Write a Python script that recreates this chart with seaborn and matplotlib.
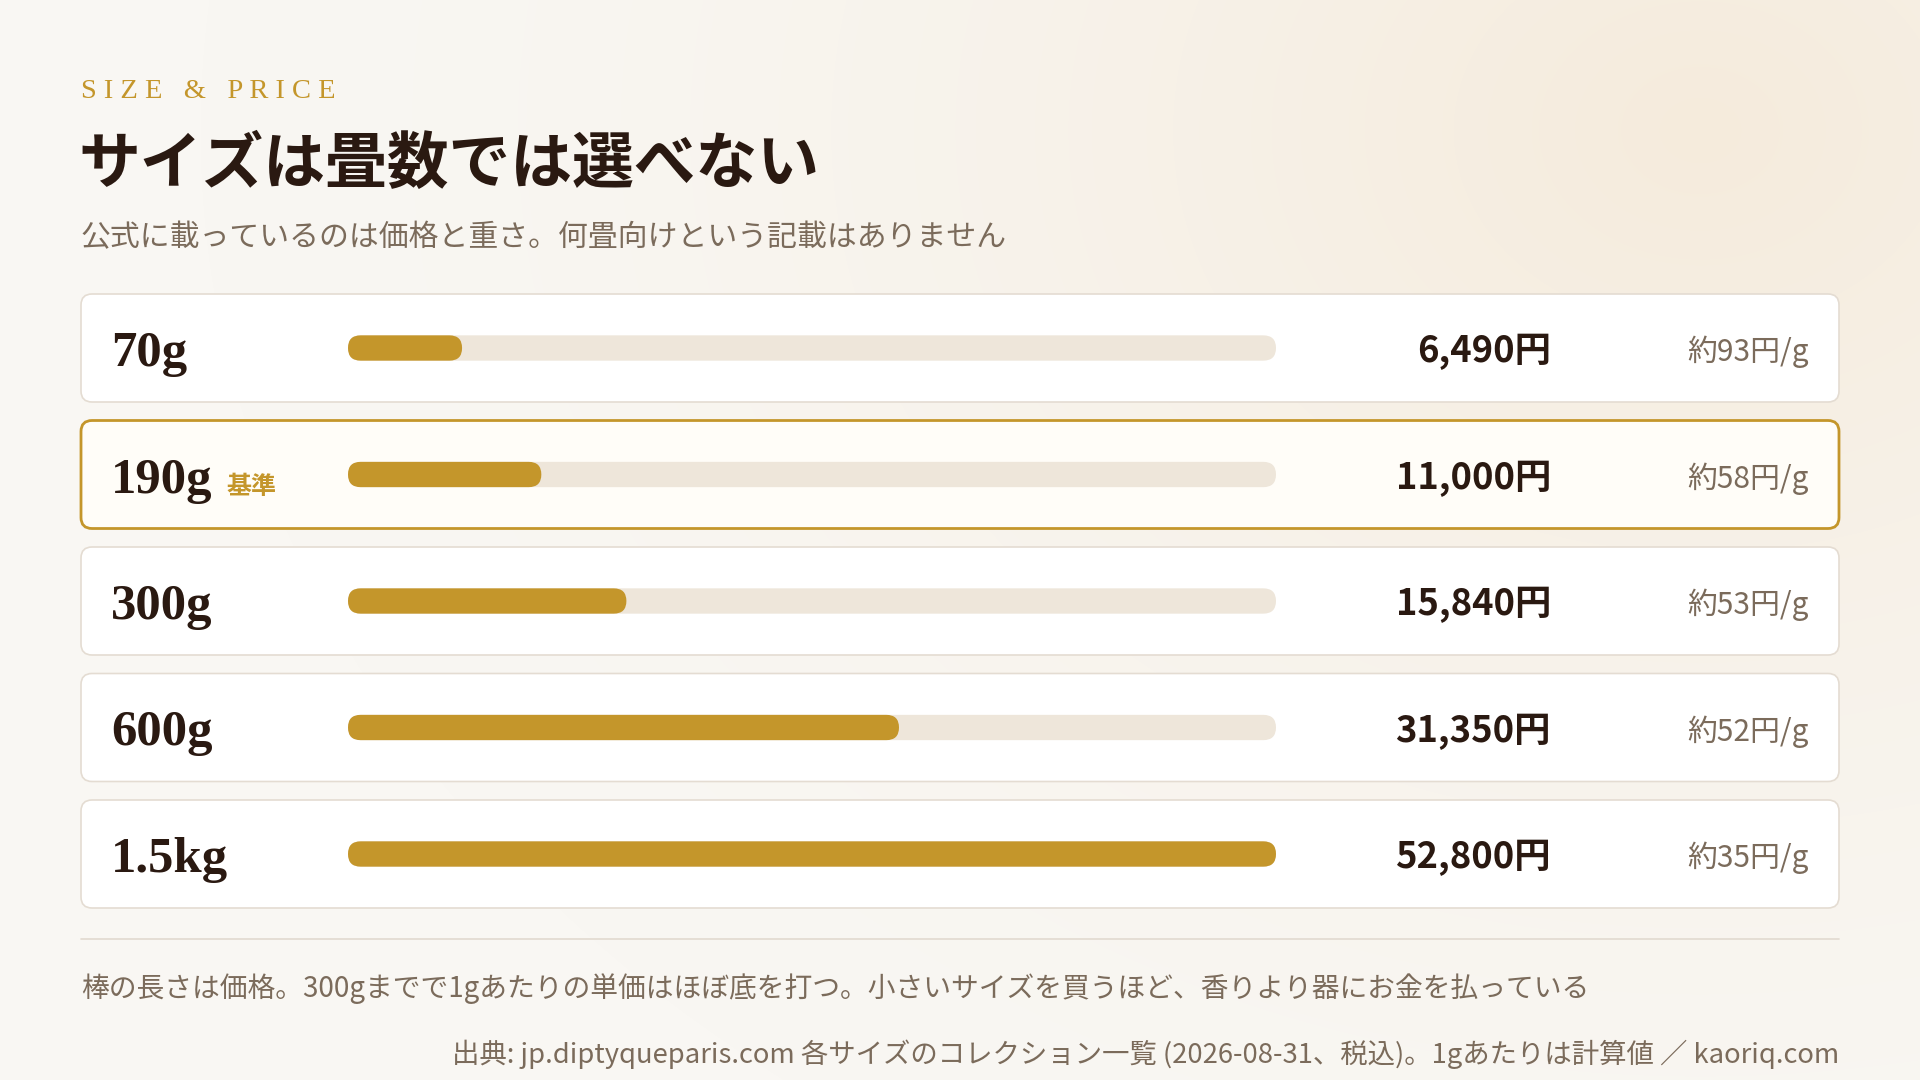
import numpy as np
import pandas as pd
import matplotlib
matplotlib.use("Agg")
import matplotlib.pyplot as plt
import seaborn as sns
from matplotlib.patches import FancyBboxPatch
from matplotlib.transforms import blended_transform_factory, offset_copy

sns.set_theme(style="white")
plt.rcParams['font.family'] = ['Noto Sans CJK JP', 'DejaVu Sans']

# ------------------------
# Data
# ------------------------
sizes = ["70g", "190g", "300g", "600g", "1.5kg"]
prices = [6490, 11000, 15840, 31350, 52800]
per_gram = ["約93円/g", "約58円/g", "約53円/g", "約52円/g", "約35円/g"]
base_size = "190g"
base_tag = "基準"

kicker = "S I Z E   &   P R I C E"
title = "サイズは畳数では選べない"
subtitle = "公式に載っているのは価格と重さ。何畳向けという記載はありません"
note = "棒の長さは価格。300gまでで1gあたりの単価はほぼ底を打つ。小さいサイズを買うほど、香りより器にお金を払っている"
source = "出典: jp.diptyqueparis.com 各サイズのコレクション一覧 (2026-08-31、税込)。1gあたりは計算値 ／ kaoriq.com"

# ------------------------
# Colours / layout (pixels on a 1920x1080 canvas)
# ------------------------
GOLD = "#C4962B"
TRACK = "#EEE6DA"
DARK = "#2A1911"
MUTED = "#7B6B5B"
CARD_EDGE = "#E4DCD2"

W, H = 1920, 1080
ROW0, STEP = 348, 126.5
CARD_H = 108
LEFT, RIGHT = 81, 1839
BAR_L, BAR_R = 348, 1276

fig = plt.figure(figsize=(W / 100, H / 100), dpi=100)

# background axes in pixel units
bg = fig.add_axes([0, 0, 1, 1], zorder=0)
bg.set_xlim(0, W)
bg.set_ylim(H, 0)
bg.axis("off")

yy, xx = np.mgrid[0:H, 0:W]
d = np.hypot((xx - 1700) / 1.0, (yy - 130) / 0.8) / 1500
t = np.clip(1 - d, 0, 1) ** 1.6
c0 = np.array([249, 247, 243]) / 255
c1 = np.array([245, 235, 220]) / 255
img = c0 * (1 - t[..., None]) + c1 * t[..., None]
bg.imshow(img, extent=(0, W, H, 0), aspect="auto", zorder=0)

# row cards
for i, s in enumerate(sizes):
    cy = ROW0 + STEP * i
    is_base = s == base_size
    card = FancyBboxPatch((LEFT, cy - CARD_H / 2), RIGHT - LEFT, CARD_H,
                          boxstyle="round,pad=0,rounding_size=11",
                          fc="#FFFDF8" if is_base else "white",
                          ec=GOLD if is_base else CARD_EDGE,
                          lw=2.0 if is_base else 1.2, zorder=1)
    bg.add_patch(card)

# separator
bg.plot([LEFT, RIGHT], [939, 939], color="#E2DAD0", lw=1.2, zorder=1)

# ------------------------
# Bars
# ------------------------
top_px = ROW0 - STEP / 2
bot_px = ROW0 + STEP * (len(sizes) - 0.5)
ax = fig.add_axes([BAR_L / W, 1 - bot_px / H, (BAR_R - BAR_L) / W, (bot_px - top_px) / H], zorder=2)
ax.patch.set_alpha(0)

df = pd.DataFrame({"size": sizes, "price": prices, "track": [max(prices)] * len(prices)})
sns.barplot(data=df, x="track", y="size", color=TRACK, width=0.2, saturation=1,
            errorbar=None, ax=ax)
sns.barplot(data=df, x="price", y="size", color=GOLD, width=0.2, saturation=1,
            errorbar=None, ax=ax)
ax.set_xlim(0, max(prices))
ax.set_ylim(len(sizes) - 0.5, -0.5)
ax.axis("off")

# turn the rectangles into pill shapes
x_per_px = max(prices) / (BAR_R - BAR_L)
y_per_px = len(sizes) / (bot_px - top_px)
for rect in list(ax.patches):
    x, y = rect.get_x(), rect.get_y()
    w, h = rect.get_width(), rect.get_height()
    r = abs(h) / y_per_px / 2 * x_per_px
    pill = FancyBboxPatch((x, y), w, h, boxstyle=f"round,pad=0,rounding_size={r}",
                          mutation_aspect=y_per_px / x_per_px,
                          fc=rect.get_facecolor(), ec="none", zorder=rect.get_zorder())
    rect.remove()
    ax.add_patch(pill)

# ------------------------
# Row texts
# ------------------------
row_tr = blended_transform_factory(bg.transData, ax.transData)
down = offset_copy(row_tr, fig, y=-4, units="dots")
for i, s in enumerate(sizes):
    lbl = bg.text(111, i, s, transform=offset_copy(row_tr, fig, y=-6, units="dots"),
                  ha="left", va="center", fontsize=36.5, color=DARK,
                  family="Liberation Serif", fontweight="bold", zorder=3)
    if s == base_size:
        fig.canvas.draw()
        bb = lbl.get_window_extent()
        x_end = bg.transData.inverted().transform((bb.x1, bb.y0))[0]
        bg.text(x_end + 14, i, base_tag, transform=offset_copy(row_tr, fig, y=-12, units="dots"),
                ha="left", va="center", fontsize=18, color=GOLD, fontweight="bold", zorder=3)
    bg.text(1551, i, f"{prices[i]:,}円", transform=down, ha="right", va="center",
            fontsize=26.2, color=DARK, fontweight="bold", zorder=3)
    bg.text(1809, i, per_gram[i], transform=down, ha="right", va="center",
            fontsize=21.5, color=MUTED, zorder=3)

# ------------------------
# Header / footer
# ------------------------
bg.text(81, 91, kicker, ha="left", va="center", fontsize=20.5, color=GOLD,
        family="Liberation Serif", zorder=3)
bg.text(78, 164, title, ha="left", va="center", fontsize=44.5, color=DARK,
        fontweight="bold", zorder=3)
bg.text(81, 238, subtitle, ha="left", va="center", fontsize=21.5, color=MUTED, zorder=3)
bg.text(81, 989, note, ha="left", va="center", fontsize=20, color=MUTED, zorder=3)
bg.text(RIGHT, 1054, source, ha="right", va="center", fontsize=19.75, color=MUTED, zorder=3)

fig.savefig("out.png", dpi=100)
